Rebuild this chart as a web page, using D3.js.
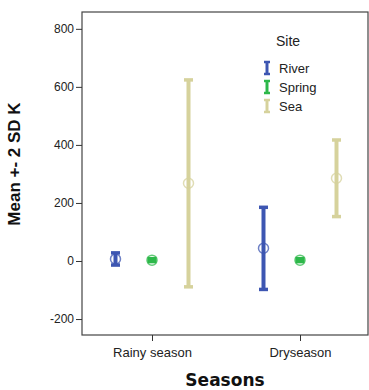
<!DOCTYPE html>
<html>
<head>
<meta charset="utf-8">
<script src="https://cdn.jsdelivr.net/npm/d3@7"></script>
<style>
  body { margin: 0; background: #fff; }
  text { font-family: "Liberation Sans", Arial, sans-serif; }
</style>
</head>
<body>
<div id="chart"></div>
<script>
const width = 369;
const height = 390;

// data
const seasons = ["Rainy season", "Dryseason"];
const sites = ["River", "Spring", "Sea"];
const siteColors = ["#3d56b2", "#2db84a", "#d6d29c"];
const means = [[7, 3, 268], [44, 3, 285]];
const lowers = [[-14, -2, -89], [-98, -2, 153]];
const uppers = [[28, 8, 624], [185, 8, 417]];
const yTicks = [-200, 0, 200, 400, 600, 800];

const frame = { left: 82, right: 368, top: 12, bottom: 335 };

const svg = d3.select("#chart")
    .append("svg")
    .attr("width", width)
    .attr("height", height);

const y = d3.scaleLinear()
    .domain([-255, 858])
    .range([frame.bottom, frame.top]);

const x = d3.scalePoint()
    .domain(seasons)
    .range([152, 300]);

const offset = d3.scalePoint()
    .domain(sites)
    .range([-36.5, 36.5]);

// frame
svg.append("rect")
    .attr("x", frame.left)
    .attr("y", frame.top)
    .attr("width", frame.right - frame.left)
    .attr("height", frame.bottom - frame.top)
    .attr("fill", "none")
    .attr("stroke", "#444")
    .attr("stroke-width", 1.2);

const yAxis = svg.append("g")
    .attr("transform", `translate(${frame.left},0)`)
    .call(d3.axisLeft(y).tickValues(yTicks).tickFormat(d => String(d)).tickSize(6).tickPadding(2));
yAxis.select(".domain").remove();
yAxis.selectAll("line").attr("stroke", "#333");
yAxis.selectAll("text").attr("font-size", 12).attr("fill", "#222")
    .style("font-family", "Liberation Sans, Arial, sans-serif");

const xAxis = svg.append("g")
    .attr("transform", `translate(0,${frame.bottom})`)
    .call(d3.axisBottom(x).tickSize(6).tickPadding(7));
xAxis.select(".domain").remove();
xAxis.selectAll("line").attr("stroke", "#333");
xAxis.selectAll("text").attr("font-size", 13).attr("fill", "#222")
    .style("font-family", "Liberation Sans, Arial, sans-serif");

// axis titles
svg.append("text")
    .attr("x", (frame.left + frame.right) / 2)
    .attr("y", 386)
    .attr("text-anchor", "middle")
    .attr("font-size", 17)
    .attr("font-weight", "bold")
    .attr("fill", "#111")
    .style("font-family", "DejaVu Sans, sans-serif")
    .text("Seasons");

svg.append("text")
    .attr("transform", "translate(20,164) rotate(-90)")
    .attr("text-anchor", "middle")
    .attr("font-size", 17)
    .attr("font-weight", "bold")
    .attr("fill", "#111")
    .text("Mean +- 2 SD K");

// error bars
const rows = [];
seasons.forEach((s, i) => {
    sites.forEach((site, j) => {
        rows.push({ season: s, site, color: siteColors[j], mean: means[i][j], lo: lowers[i][j], hi: uppers[i][j] });
    });
});

const bars = svg.append("g").selectAll("g")
    .data(rows)
    .join("g")
    .attr("transform", d => `translate(${x(d.season) + offset(d.site)},0)`);

bars.append("line")
    .attr("y1", d => y(d.hi))
    .attr("y2", d => y(d.lo))
    .attr("stroke", d => d.color)
    .attr("stroke-width", 4);

bars.selectAll(".cap")
    .data(d => [d.hi, d.lo].map(v => ({ v, color: d.color })))
    .join("line")
    .attr("class", "cap")
    .attr("x1", -4.5)
    .attr("x2", 4.5)
    .attr("y1", d => y(d.v))
    .attr("y2", d => y(d.v))
    .attr("stroke", d => d.color)
    .attr("stroke-width", 3.5);

bars.append("circle")
    .attr("cy", d => y(d.mean))
    .attr("r", 5)
    .attr("fill", "none")
    .attr("stroke", d => d.color)
    .attr("stroke-opacity", 0.75)
    .attr("stroke-width", 1.5);

// legend
const legend = svg.append("g");
legend.append("text")
    .attr("x", 276)
    .attr("y", 46)
    .attr("font-size", 14)
    .attr("fill", "#222")
    .text("Site");

const items = legend.selectAll(".item")
    .data(sites)
    .join("g")
    .attr("class", "item")
    .attr("transform", (d, i) => `translate(267,${68 + i * 19})`);

items.append("line")
    .attr("y1", -6).attr("y2", 6)
    .attr("stroke", (d, i) => siteColors[i])
    .attr("stroke-width", 3);
items.selectAll(".lcap")
    .data((d, i) => [-6, 6].map(v => ({ v, color: siteColors[i] })))
    .join("line")
    .attr("class", "lcap")
    .attr("x1", -3).attr("x2", 3)
    .attr("y1", d => d.v).attr("y2", d => d.v)
    .attr("stroke", d => d.color)
    .attr("stroke-width", 2.5);

items.append("text")
    .attr("x", 12)
    .attr("y", 5)
    .attr("font-size", 13)
    .attr("fill", "#222")
    .text(d => d);
</script>
</body>
</html>
